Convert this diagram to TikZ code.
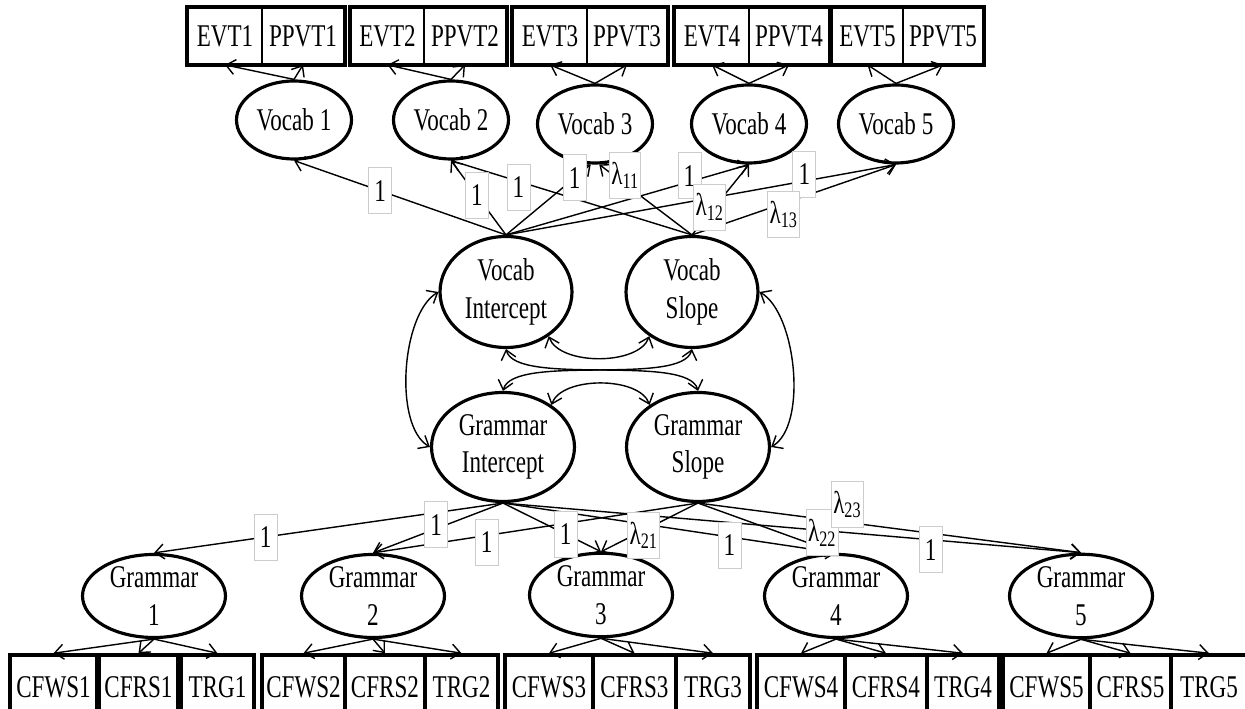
\documentclass[tikz,border=0pt]{standalone}
\usepackage{fontspec}
\setmainfont{Liberation Serif}[FakeStretch=0.73]
\usetikzlibrary{shapes.geometric,arrows.meta}
\begin{document}
\begin{tikzpicture}[x=0.02cm,y=0.02cm,
  every node/.style={font=\fontsize{18}{21.5}\selectfont},
  cell/.style={draw, line width=1pt, inner sep=0pt, minimum height=1.12cm},
  bcell/.style={draw, line width=2pt, inner sep=0pt, minimum height=1.28cm},
  lat/.style={ellipse, draw, line width=1.8pt, inner sep=0pt, align=center},
  vsm/.style={lat, minimum width=2.3cm, minimum height=1.56cm},
  vbig/.style={lat, minimum width=2.64cm, minimum height=2.22cm},
  gbig/.style={lat, minimum width=2.86cm, minimum height=2.18cm},
  gsm/.style={lat, minimum width=2.86cm, minimum height=1.56cm},
  lab/.style={fill=white, draw=gray!40, line width=0.5pt, inner sep=1pt, minimum width=0.46cm, minimum height=0.92cm},
  arr/.style={line width=0.8pt, -{Straight Barb[length=1.8mm,width=3mm]}},
  cov/.style={line width=0.8pt, {Straight Barb[length=1.8mm,width=3mm]}-{Straight Barb[length=1.8mm,width=3mm]}}
]
\clip (0,0) rectangle (1245,709);
% top observed
\node[cell, minimum width=1.48cm] (e1) at (225,673) {EVT1};
\node[cell, minimum width=1.64cm] (p1) at (303,673) {PPVT1};
\node[cell, minimum width=1.46cm] (e2) at (387.5,673) {EVT2};
\node[cell, minimum width=1.64cm] (p2) at (465,673) {PPVT2};
\node[cell, minimum width=1.48cm] (e3) at (550,673) {EVT3};
\node[cell, minimum width=1.6cm] (p3) at (627,673) {PPVT3};
\node[cell, minimum width=1.48cm] (e4) at (712,673) {EVT4};
\node[cell, minimum width=1.6cm] (p4) at (789,673) {PPVT4};
\node[cell, minimum width=1.42cm] (e5) at (867.5,673) {EVT5};
\node[cell, minimum width=1.6cm] (p5) at (943,673) {PPVT5};
\foreach \i in {1,...,5} {\draw[line width=1.9pt] (e\i.north west) rectangle (p\i.south east);}
% bottom observed
\node[bcell, minimum width=1.74cm] (cw1) at (53.5,22) {CFWS1};
\node[bcell, minimum width=1.58cm] (cr1) at (138.5,22) {CFRS1};
\node[bcell, minimum width=1.46cm] (t1) at (217.5,22) {TRG1};
\node[bcell, minimum width=1.66cm] (cw2) at (303.5,22) {CFWS2};
\node[bcell, minimum width=1.6cm] (cr2) at (385,22) {CFRS2};
\node[bcell, minimum width=1.46cm] (t2) at (461.5,22) {TRG2};
\node[bcell, minimum width=1.76cm] (cw3) at (549,22) {CFWS3};
\node[bcell, minimum width=1.66cm] (cr3) at (634.5,22) {CFRS3};
\node[bcell, minimum width=1.48cm] (t3) at (713,22) {TRG3};
\node[bcell, minimum width=1.76cm] (cw4) at (801,22) {CFWS4};
\node[bcell, minimum width=1.64cm] (cr4) at (886,22) {CFRS4};
\node[bcell, minimum width=1.44cm] (t4) at (963,22) {TRG4};
\node[bcell, minimum width=1.74cm] (cw5) at (1046.5,22) {CFWS5};
\node[bcell, minimum width=1.62cm] (cr5) at (1130.5,22) {CFRS5};
\node[bcell, minimum width=1.52cm] (t5) at (1209,22) {TRG5};
% latent
\node[vsm] (v1) at (294,589) {Vocab 1};
\node[vsm] (v2) at (451,589) {Vocab 2};
\node[vsm] (v3) at (595,585) {Vocab 3};
\node[vsm] (v4) at (749,585) {Vocab 4};
\node[vsm] (v5) at (896,585) {Vocab 5};
\node[vbig] (vi) at (506,417) {Vocab\\Intercept};
\node[vbig] (vs) at (692,417) {Vocab\\Slope};
\node[gbig] (gi) at (503,262) {Grammar\\Intercept};
\node[gbig] (gs) at (698,262) {Grammar\\Slope};
\node[gsm] (g1) at (154,113) {Grammar\\1};
\node[gsm] (g2) at (373,113) {Grammar\\2};
\node[gsm] (g3) at (601,114) {Grammar\\3};
\node[gsm] (g4) at (836,113) {Grammar\\4};
\node[gsm] (g5) at (1081,113) {Grammar\\5};
% indicators
\foreach \i in {1,...,5} {
  \draw[arr] (v\i.north) -- (e\i.south);
  \draw[arr] (v\i.north) -- (p\i.south);
  \draw[arr] (g\i.south) -- (cw\i.north);
  \draw[arr] (g\i.south) -- (cr\i.north);
  \draw[arr] (g\i.south) -- (t\i.north);
}
% growth loadings (lines)
\draw[arr] (vi.north) -- (v1.south);
\draw[arr] (vi.north) -- (v2.south);
\draw[arr] (vi.north) -- (v3.-96);
\draw[arr] (vi.north) -- (v4.south);
\draw[arr] (vi.north) -- (v5.south);
\draw[arr] (vs.north) -- (v2.south);
\draw[arr] (vs.north) -- (v3.-84);
\draw[arr] (vs.north) -- (v4.south);
\draw[arr] (vs.north) -- (v5.south);
\draw[arr] (gi.south) -- (g1.north);
\draw[arr] (gi.south) -- (g2.north);
\draw[arr] (gi.south) -- (g3.north);
\draw[arr] (gi.south) -- (g4.north);
\draw[arr] (gi.south) -- (g5.north);
\draw[arr] (gs.south) -- (g2.north);
\draw[arr] (gs.south) -- (g3.north);
\draw[arr] (gs.south) -- (g4.north);
\draw[arr] (gs.south) -- (g5.north);
% labels
\path (vi.north) -- node[lab,pos=0.594] {1} (v1.south);
\path (vi.north) -- node[lab,pos=0.53] {1} (v2.south);
\path (vs.north) -- node[lab,pos=0.72,yshift=-0.12cm] {1} (v2.south);
\path (vi.north) -- node[lab,pos=0.81] {1} (v3.-96);
\path (vs.north) -- node[lab,pos=0.72,yshift=0.18cm] {λ\textsubscript{11}} (v3.-84);
\path (vi.north) -- node[lab,pos=0.755,yshift=0.12cm] {1} (v4.south);
\path (vs.north) -- node[lab,pos=0.31,yshift=0.12cm] {λ\textsubscript{12}} (v4.south);
\path (vi.north) -- node[lab,pos=0.765,yshift=0.14cm] {1} (v5.south);
\path (vs.north) -- node[lab,pos=0.45,yshift=-0.22cm] {λ\textsubscript{13}} (v5.south);
\path (gi.south) -- node[lab,pos=0.68] {1} (g1.north);
\path (gi.south) -- node[lab,pos=0.515,yshift=0.08cm] {1} (g2.north);
\path (gs.south) -- node[lab,pos=0.65,yshift=-0.14cm] {1} (g2.north);
\path (gi.south) -- node[lab,pos=0.64] {1} (g3.north);
\path (gs.south) -- node[lab,pos=0.56,yshift=-0.1cm] {λ\textsubscript{21}} (g3.north);
\path (gi.south) -- node[lab,pos=0.68,yshift=-0.16cm] {1} (g4.north);
\path (gs.south) -- node[lab,pos=0.9,yshift=0.3cm] {λ\textsubscript{22}} (g4.north);
\path (gi.south) -- node[lab,pos=0.74,yshift=-0.2cm] {1} (g5.north);
\path (gs.south) -- node[lab,pos=0.39,yshift=0.36cm] {λ\textsubscript{23}} (g5.north);
% covariances
\draw[cov] (vi.-46) to[out=-70,in=-110,looseness=0.8] (vs.-134);
\draw[cov] (vi.south) .. controls +(10,-38) and +(-10,38) .. (gs.north);
\draw[cov] (vs.south) .. controls +(-10,-38) and +(10,38) .. (gi.north);
\draw[cov] (gi.41) to[out=70,in=110,looseness=0.8] (gs.139);
\draw[cov] (vi.west) to[out=210,in=150,looseness=0.7] (gi.west);
\draw[cov] (vs.east) to[out=-30,in=30,looseness=0.7] (gs.east);
\end{tikzpicture}
\end{document}
